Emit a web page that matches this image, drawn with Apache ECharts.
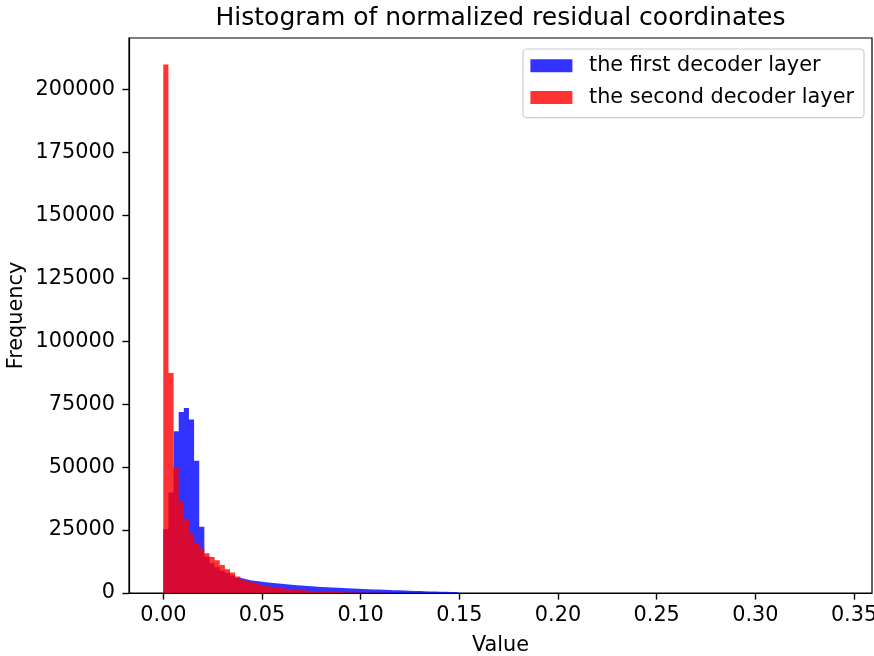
<!DOCTYPE html>
<html><head><meta charset="utf-8">
<script src="https://cdn.jsdelivr.net/npm/echarts@6/dist/echarts.min.js"></script>
<style>html,body{margin:0;padding:0;background:#fff;overflow:hidden}#c{width:874px;height:656px}</style>
</head><body><div id="c"></div>
<script>
// ---- data ----
const binWidth = 0.0026;   // common histogram bin width (value units), bins start at 0
const seriesNames = ['the first decoder layer', 'the second decoder layer'];
const firstDecoder = [
  25300, 39900, 64300, 71900, 73500, 68900, 52500, 26300, 14400, 11800,
  10200, 8900, 7900, 7000, 6100, 5600, 5100, 4800, 4550, 4300,
  4100, 3900, 3700, 3500, 3300, 3100, 2950, 2800, 2650, 2500,
  2400, 2250, 2150, 2050, 1950, 1850, 1750, 1650, 1550, 1480,
  1420, 1350, 1280, 1200, 1120, 1050, 980, 900, 830, 760,
  690, 620, 560, 500, 450, 400, 350, 120
];
const secondDecoder = [
  210000, 87400, 50000, 36200, 29000, 23700, 20000, 17700, 15800, 14300,
  13000, 11100, 9400, 8100, 6600, 5400, 4600, 3900, 3300, 2800,
  2450, 2150, 1900, 1650, 1450, 1250, 1100, 950, 820, 700,
  600, 500, 420, 350, 290, 240, 200, 160, 130, 100,
  80, 65, 55, 47, 40, 34, 29, 25, 22, 19,
  17, 15, 13, 12, 11, 10, 9, 8, 8, 7,
  7, 6, 6, 5, 5, 5, 4, 4, 4, 3,
  3, 3, 3, 3, 2, 2, 2, 2, 2, 2,
  1, 2, 1, 1, 1, 2, 1, 1, 1, 1,
  1, 0, 1, 1, 0, 1, 1, 0, 1, 0,
  1, 0, 0, 1, 0, 1, 0, 0, 1, 0,
  0, 0, 1, 0, 0, 1, 0, 0, 0, 1,
  0, 0, 0, 1, 0, 0, 0, 0, 1, 0,
  0, 1
];
const xTickValues = [0, 0.05, 0.10, 0.15, 0.20, 0.25, 0.30, 0.35];
const yTickValues = [0, 25000, 50000, 75000, 100000, 125000, 150000, 175000, 200000];
const titleText = 'Histogram of normalized residual coordinates';
const xName = 'Value';
const yName = 'Frequency';

// ---- build ----
// histogram as a stepped outline: point at each bin's left edge, closing point at last right edge
function toSteps(arr) {
  const pts = arr.map((v, i) => [i * binWidth, v]);
  pts.push([arr.length * binWidth, 0]);
  return pts;
}
const FONT = '"DejaVu Sans", sans-serif';
const FS = 20.8;
function histSeries(name, color, values) {
  return {
    name, type: 'line', step: 'end', data: toSteps(values),
    showSymbol: false, symbol: 'none', clip: true,
    itemStyle: { color },
    lineStyle: { width: 0, color },
    areaStyle: { color, opacity: 1, origin: 'start' },
    emphasis: { disabled: true }
  };
}
const chart = echarts.init(document.getElementById('c'), null, { renderer: 'canvas' });
chart.setOption({
  animation: false,
  backgroundColor: '#ffffff',
  grid: { left: 129, right: 2, top: 38, bottom: 63, containLabel: false, outerBoundsMode: 'none',
    show: true, borderColor: '#000', borderWidth: 1.2, backgroundColor: 'transparent' },
  xAxis: {
    type: 'value', min: -0.01738, max: 0.3591,
    axisLine: { show: true, onZero: false, lineStyle: { color: '#000', width: 1.2 } },
    axisTick: { show: true, length: 6.6, lineStyle: { color: '#000', width: 1.4 }, customValues: xTickValues },
    axisLabel: { show: true, margin: 12, color: '#000', fontSize: FS, fontFamily: FONT, customValues: xTickValues,
      formatter: v => v.toFixed(2) },
    splitLine: { show: false }
  },
  yAxis: {
    type: 'value', min: 0, max: 220500,
    axisLine: { show: true, onZero: false, lineStyle: { color: '#000', width: 1.2 } },
    axisTick: { show: true, length: 6.6, lineStyle: { color: '#000', width: 1.4 }, customValues: yTickValues },
    axisLabel: { show: true, margin: 14, color: '#000', fontSize: FS, fontFamily: FONT, customValues: yTickValues,
      formatter: v => String(v) },
    splitLine: { show: false }
  },
  legend: {
    orient: 'vertical', left: 523, top: 49,
    data: seriesNames.map(n => ({ name: n, icon: 'rect' })),
    itemWidth: 42, itemHeight: 13, itemGap: 10.8,
    padding: [6.3, 10, 9.6, 7.4],
    backgroundColor: '#ffffff', borderColor: '#cccccc', borderWidth: 1.2, borderRadius: 4,
    textStyle: { color: '#000', fontSize: FS, fontFamily: FONT, lineHeight: FS, padding: [0, 0, 0, 11.6] }
  },
  graphic: [
    { type: 'text', x: 500.5, y: 18, style: { text: titleText, fontSize: 25, fontFamily: FONT, fill: '#000', align: 'center', verticalAlign: 'middle' } },
    { type: 'text', x: 500.5, y: 646, style: { text: xName, fontSize: FS, fontFamily: FONT, fill: '#000', align: 'center', verticalAlign: 'middle' } },
    { type: 'text', x: 17, y: 315.5, rotation: Math.PI / 2, style: { text: yName, fontSize: FS, fontFamily: FONT, fill: '#000', align: 'center', verticalAlign: 'middle' } }
  ],
  series: [
    histSeries(seriesNames[0], 'rgba(0,0,255,0.8)', firstDecoder),
    histSeries(seriesNames[1], 'rgba(255,0,0,0.8)', secondDecoder)
  ]
});
</script>
</body></html>
